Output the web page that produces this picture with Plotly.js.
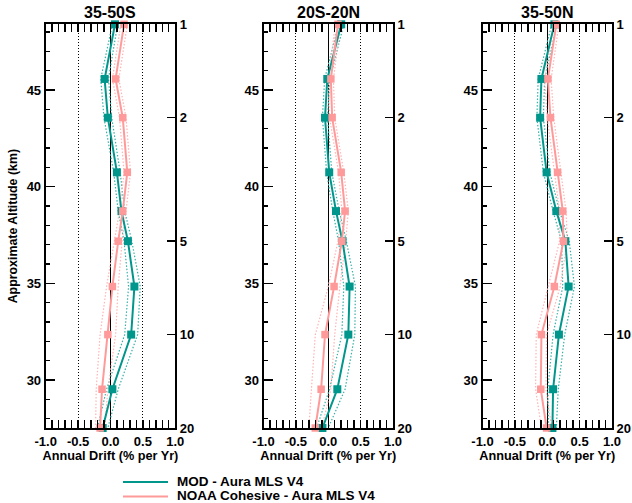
<!DOCTYPE html>
<html>
<head>
<meta charset="utf-8">
<script src="https://cdn.plot.ly/plotly-3.0.1.min.js"></script>
<style>html,body{margin:0;padding:0;background:#fff;}#chart{width:632px;height:503px;}</style>
</head>
<body>
<div id="chart"></div>
<script>
// Pressure levels (hPa) of the data points
const pressure = [1, 1.5, 2, 3, 4, 5, 7, 10, 15, 20];
const panelTitles = ['35-50S', '20S-20N', '35-50N'];
const seriesNames = ['MOD - Aura MLS V4', 'NOAA Cohesive - Aura MLS V4'];

// Annual drift (% per yr)
const mod_3550S  = [0.07, -0.09, -0.04, 0.10, 0.17, 0.27, 0.37, 0.32, 0.03, -0.12];
const noaa_3550S = [0.21, 0.08, 0.19, 0.26, 0.19, 0.12, 0.03, -0.04, -0.13, -0.16];
const mod_20S20N  = [0.20, -0.015, -0.05, 0.015, 0.12, 0.22, 0.33, 0.31, 0.14, -0.09];
const noaa_20S20N = [0.15, 0.04, 0.06, 0.20, 0.26, 0.21, 0.09, -0.05, -0.11, -0.20];
const mod_3550N  = [0.11, -0.09, -0.11, -0.01, 0.14, 0.28, 0.33, 0.18, 0.09, 0.08];
const noaa_3550N = [0.14, 0.01, 0.05, 0.16, 0.24, 0.25, 0.11, -0.09, -0.10, -0.01];

// Uncertainty half-widths (dotted envelopes)
const modErr_3550S  = [0.04, 0.06, 0.06, 0.05, 0.05, 0.06, 0.09, 0.10, 0.09, 0.08];
const noaaErr_3550S = [0.05, 0.05, 0.05, 0.05, 0.05, 0.06, 0.09, 0.12, 0.09, 0.07];
const modErr_20S20N  = [0.04, 0.04, 0.04, 0.04, 0.05, 0.06, 0.09, 0.10, 0.12, 0.09];
const noaaErr_20S20N = [0.04, 0.04, 0.04, 0.04, 0.05, 0.06, 0.09, 0.15, 0.15, 0.10];
const modErr_3550N  = [0.04, 0.05, 0.05, 0.05, 0.05, 0.06, 0.09, 0.09, 0.08, 0.06];
const noaaErr_3550N = [0.04, 0.05, 0.05, 0.05, 0.05, 0.06, 0.09, 0.08, 0.08, 0.08];

// Axis ticks
const driftTicks = [-1.0, -0.5, 0.0, 0.5, 1.0];
const altTicks = [30, 35, 40, 45];
const pressTicks = [1, 2, 5, 10, 20];

const mods = [mod_3550S, mod_20S20N, mod_3550N];
const noaas = [noaa_3550S, noaa_20S20N, noaa_3550N];
const modErrs = [modErr_3550S, modErr_20S20N, modErr_3550N];
const noaaErrs = [noaaErr_3550S, noaaErr_20S20N, noaaErr_3550N];

const TEAL = '#00968c', TEAL_L = '#36b0a8';
const PINK = '#ff9a9a', PINK_L = '#ffb3b3';
const FONT = 'Liberation Sans, Arial, Helvetica, sans-serif';

const W = 632, H = 503;
const xPix = [[45.7, 175.2], [263.5, 393.0], [482.5, 612.0]];
const yDom = [1 - 428 / H, 1 - 24.3 / H];

const traces = [];
const layout = {
  width: W, height: H,
  margin: {l: 0, r: 0, t: 0, b: 0},
  paper_bgcolor: '#fff', plot_bgcolor: '#fff',
  showlegend: false,
  font: {family: FONT, color: '#000', size: 13, weight: 'bold'},
  annotations: [], shapes: []
};

function band(vals, errs, sign) {
  return vals.map((v, i) => v + sign * errs[i]);
}

for (let i = 0; i < 3; i++) {
  const xi = i + 1;
  const xname = 'x' + xi;
  const pY = 'y' + (2 * i + 1);
  const aY = 'y' + (2 * i + 2);
  const pKey = 'yaxis' + (2 * i === 0 ? '' : (2 * i + 1));
  const aKey = 'yaxis' + (2 * i + 2);
  const xKey = 'xaxis' + (xi === 1 ? '' : xi);

  const series = [
    {vals: mods[i], errs: modErrs[i], c: TEAL, cl: TEAL_L, sz: 8},
    {vals: noaas[i], errs: noaaErrs[i], c: PINK, cl: PINK_L, sz: 7.5}
  ];
  series.forEach(s => {
    [-1, 1].forEach(sg => {
      traces.push({
        x: band(s.vals, s.errs, sg), y: pressure, xaxis: xname, yaxis: pY,
        mode: 'lines', line: {color: s.cl, width: 1.2, dash: '1.5px,1.8px'},
        hoverinfo: 'skip', showlegend: false, cliponaxis: false
      });
    });
  });
  series.forEach((s, k) => {
    traces.push({
      x: s.vals, y: pressure, xaxis: xname, yaxis: pY, name: seriesNames[k],
      mode: 'lines+markers', line: {color: s.c, width: 2},
      marker: {symbol: 'square', size: s.sz, color: s.c},
      showlegend: false, cliponaxis: false
    });
  });
  // altitude axis carrier
  traces.push({x: [], y: [], xaxis: xname, yaxis: aY, showlegend: false, hoverinfo: 'skip', mode: 'lines'});

  layout[xKey] = {
    domain: [xPix[i][0] / W, xPix[i][1] / W], anchor: pY,
    range: [-1, 1], tickvals: driftTicks, ticktext: driftTicks.map(v => v.toFixed(1)),
    ticks: 'inside', ticklen: 8, tickwidth: 1.5, tickcolor: '#000',
    minor: {dtick: 0.1, tick0: 0, ticks: 'inside', ticklen: 4, tickwidth: 1.5, tickcolor: '#000', showgrid: false},
    showline: true, linecolor: '#000', linewidth: 2, mirror: 'allticks',
    showgrid: true, gridcolor: '#000', gridwidth: 1, griddash: '1px,2px',
    zeroline: true, zerolinecolor: '#000', zerolinewidth: 1.2,
    tickfont: {family: FONT, size: 13, color: '#000', weight: 'bold'},
    title: {text: 'Annual Drift (% per Yr)', font: {family: FONT, size: 12.7, color: '#000', weight: 'bold'}, standoff: 2},
    automargin: false, fixedrange: true
  };
  layout[pKey] = {
    domain: yDom, anchor: xname, side: 'right', type: 'log',
    range: [Math.log10(20), 0], tickvals: pressTicks, ticktext: pressTicks.map(String),
    ticks: 'inside', ticklen: 8, tickwidth: 1.5, tickcolor: '#000',
    showline: true, linecolor: '#000', linewidth: 2, mirror: false,
    showgrid: false, zeroline: false,
    tickfont: {family: FONT, size: 13, color: '#000', weight: 'bold'},
    automargin: false, fixedrange: true
  };
  layout[aKey] = {
    overlaying: pY, anchor: xname, side: 'left',
    range: [27.52, 48.40], tickvals: altTicks, ticktext: altTicks.map(String),
    ticks: 'inside', ticklen: 9, tickwidth: 1.5, tickcolor: '#000',
    minor: {dtick: 1, tick0: 0, ticks: 'inside', ticklen: 4, tickwidth: 1.5, tickcolor: '#000', showgrid: false},
    showline: true, linecolor: '#000', linewidth: 2, showgrid: false, zeroline: false,
    tickfont: {family: FONT, size: 13, color: '#000', weight: 'bold'},
    automargin: false, fixedrange: true
  };
  if (i === 0) {
    layout[aKey].title = {text: 'Approximate Altitude (km)', font: {family: FONT, size: 12.4, color: '#000', weight: 'bold'}, standoff: 6};
  }
  layout.annotations.push({
    text: panelTitles[i], xref: 'paper', yref: 'paper',
    x: (xPix[i][0] + xPix[i][1]) / 2 / W, y: 1 - 13 / H, xanchor: 'center', yanchor: 'middle',
    showarrow: false, font: {family: FONT, size: 16, color: '#000', weight: 'bold'}
  });
}

// Legend (drawn as paper shapes + text)
const legendRows = [{name: seriesNames[0], color: TEAL, y: 482}, {name: seriesNames[1], color: PINK, y: 496.5}];
legendRows.forEach(r => {
  layout.shapes.push({type: 'line', xref: 'paper', yref: 'paper',
    x0: 123 / W, x1: 168 / W, y0: 1 - r.y / H, y1: 1 - r.y / H, line: {color: r.color, width: 2}});
  layout.annotations.push({text: r.name, xref: 'paper', yref: 'paper', x: 176 / W, y: 1 - (r.y - 1) / H,
    xanchor: 'left', yanchor: 'middle', showarrow: false, borderpad: 0,
    font: {family: FONT, size: 13.5, color: '#000', weight: 'bold'}});
});

Plotly.newPlot('chart', traces, layout, {staticPlot: true, displayModeBar: false});
</script>
</body>
</html>
